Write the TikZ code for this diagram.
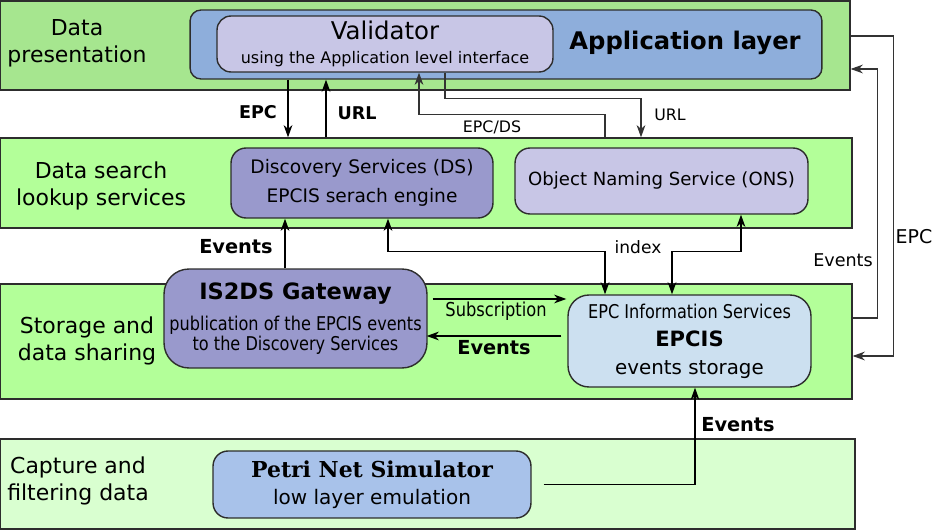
\documentclass[tikz,border=0pt]{standalone}
\usepackage{fontspec}
\setmainfont{DejaVu Sans}
\newfontfamily\condfont[FakeStretch=0.85]{DejaVu Sans}
\newfontfamily\petrifont{DejaVu Serif}
\usetikzlibrary{positioning, arrows.meta}
\definecolor{PresGreen}{RGB}{166,230,143}
\definecolor{LayerGreen}{RGB}{179,255,153}
\definecolor{CaptureGreen}{RGB}{217,255,208}
\definecolor{AppBlue}{RGB}{142,174,219}
\definecolor{LightLilac}{RGB}{200,198,230}
\definecolor{DSPurple}{RGB}{153,153,204}
\definecolor{EpcisBlue}{RGB}{204,224,240}
\definecolor{PetriBlue}{RGB}{168,194,234}
\definecolor{EdgeGrey}{RGB}{45,45,45}
\tikzset{
  layer/.style={draw=EdgeGrey, line width=0.8pt, inner sep=0pt},
  lbox/.style={draw=EdgeGrey, line width=0.8pt, align=center, inner sep=0pt},
  layerlabel/.style={align=center, font=\fontsize{12.5}{15.4}\selectfont, inner sep=0pt},
  arr/.style={-{Stealth[length=7pt,width=5pt]}, line width=0.6pt},
  twoarr/.style={{Stealth[length=7pt,width=5pt]}-{Stealth[length=7pt,width=5pt]}, line width=0.6pt},
  boldlab/.style={font=\bfseries\fontsize{11}{13}\selectfont, inner sep=1pt},
  smalllab/.style={font=\fontsize{9}{11}\selectfont, inner sep=1pt},
}

\begin{document}
\begin{tikzpicture}[x=0.02cm, y=-0.02cm]
  \useasboundingbox (0,0) rectangle (933,530);
  % layers
  \node[layer, fill=PresGreen, minimum width=17cm, minimum height=1.78cm] (datapres) at (425,45.5) {};
  \node[layer, fill=LayerGreen, minimum width=17.04cm, minimum height=1.8cm] (searchlayer) at (426,183) {};
  \node[layer, fill=LayerGreen, minimum width=17.04cm, minimum height=2.3cm] (storagelayer) at (426,341.5) {};
  \node[layer, fill=CaptureGreen, minimum width=17.1cm, minimum height=1.8cm] (capturelayer) at (427.5,484) {};
  \node[layerlabel] (preslabel) at (77,43) {Data\\presentation};
  \node[layerlabel] (searchlabel) at (101,185.5) {Data search\\lookup services};
  \node[layerlabel] (storagelabel) at (87,340.5) {Storage and\\data sharing};
  \node[layerlabel] (capturelabel) at (78,481) {Capture and\\filtering data};
  % boxes
  \node[lbox, fill=AppBlue, rounded corners=0.22cm, minimum width=12.64cm, minimum height=1.38cm] (applayer) at (506,44.5) {};
  \node[font=\bfseries\fontsize{13.8}{16}\selectfont] (applabel) at (685,43) {Application layer};
  \node[lbox, fill=LightLilac, rounded corners=0.28cm, minimum width=6.72cm, minimum height=1.12cm,
    font=\fontsize{9.1}{13.7}\selectfont] (validator) at (385,44)
    {{\fontsize{13.9}{15}\selectfont Validator}\\using the Application level interface};
  \node[lbox, fill=DSPurple, rounded corners=0.3cm, minimum width=5.24cm, minimum height=1.4cm,
    font=\fontsize{10.6}{16.5}\selectfont] (ds) at (362,183)
    {Discovery Services (DS)\\EPCIS serach engine};
  \node[lbox, fill=LightLilac, rounded corners=0.3cm, minimum width=5.86cm, minimum height=1.32cm,
    font=\fontsize{10.3}{12}\selectfont] (ons) at (661.5,181) {Object Naming Service (ONS)};
  \node[lbox, fill=DSPurple, rounded corners=0.5cm, minimum width=5.26cm, minimum height=1.98cm,
    font=\condfont\fontsize{10.8}{11.4}\selectfont] (gateway) at (295.5,318.5)
    {{\rmfamily\bfseries\fontsize{12.8}{14}\selectfont IS2DS Gateway}\\[6pt]publication of the EPCIS events\\to the Discovery Services};
  \node[lbox, fill=EpcisBlue, rounded corners=0.42cm, minimum width=4.86cm, minimum height=1.84cm,
    font=\fontsize{11.3}{16}\selectfont] (epcis) at (689.5,341)
    {{\condfont\fontsize{10.8}{12}\selectfont EPC Information Services}\\{\bfseries\fontsize{12}{14}\selectfont EPCIS}\\events storage};
  \node[lbox, fill=PetriBlue, rounded corners=0.3cm, minimum width=6.36cm, minimum height=1.34cm,
    font=\fontsize{11.4}{15.4}\selectfont] (petri) at (372,484.5)
    {{\petrifont\bfseries\fontsize{12.5}{14}\selectfont Petri Net Simulator}\\low layer emulation};
  % connectors between layers
  \draw[arr] ([xshift=-1.48cm]ds.north |- applayer.south) -- ([xshift=-1.48cm]ds.north |- searchlayer.north);
  \draw[arr] ([xshift=-0.72cm]ds.north |- searchlayer.north) -- ([xshift=-0.72cm]ds.north |- applayer.south);
  \node[boldlab, font=\bfseries\fontsize{10}{12}\selectfont] (epclab) at (258,112) {EPC};
  \node[boldlab, font=\bfseries\fontsize{10}{12}\selectfont] (urllab) at (357,113) {URL};
  \draw[arr, black!80] ([xshift=-1.13cm]ons.north |- searchlayer.north) -- ++(0,-23) -| ([xshift=0.68cm]validator.south);
  \draw[arr, black!80] ([xshift=1.2cm]validator.south) -- ++(0,26) -| ([xshift=-0.41cm]ons.north |- searchlayer.north);
  \node[smalllab] (epcdslab) at (492,127) {EPC/DS};
  \node[smalllab] (onsurllab) at (670,115) {URL};
  \draw[arr] ([xshift=-0.21cm]gateway.north) -- ([xshift=-0.21cm]gateway.north |- ds.south);
  \node[boldlab] (gwevents) at (236,247) {Events};
  \draw[twoarr] ([xshift=0.52cm]ds.south) -- ++(0,33) -| ([xshift=-1.69cm]epcis.north);
  \draw[twoarr] ([xshift=1.59cm]ons.south) -- ++(0,37) -| ([xshift=-0.35cm]epcis.north);
  \node[font=\fontsize{9.7}{12}\selectfont] (indexlab) at (638,247) {index};
  % storage layer
  \draw[arr, shorten >=0.12cm] ([shift={(5,-19.5)}]gateway.east) -- ([shift={(5,-19.5)}]gateway.east -| epcis.west);
  \draw[arr, shorten >=0.1cm] ([shift={(-6,-5)}]epcis.west) -- ([shift={(-6,-5)}]epcis.west -| gateway.east);
  \node[font=\condfont\fontsize{10.9}{12}\selectfont] (sublab) at (496,311) {Subscription};
  \node[boldlab] (evlab) at (494,348) {Events};
  % capture to storage
  \draw[arr] ([xshift=0.24cm]petri.east) -| ([xshift=0.11cm]epcis.south);
  \node[boldlab] (petrievents) at (738,425) {Events};
  % right side loop
  \draw[arr, black!80] ([yshift=0.19cm]datapres.east) -- ++(43,0) |- ([yshift=-0.29cm]storagelayer.east);
  \draw[arr, black!80] ([yshift=0.47cm]storagelayer.east) -- ++(25,0) |- ([yshift=-0.47cm]datapres.east);
  \node[font=\fontsize{10.8}{13}\selectfont] (rightepc) at (914,237) {EPC};
  \node[font=\fontsize{10}{12}\selectfont] (rightevents) at (843,260) {Events};
\end{tikzpicture}
\end{document}
